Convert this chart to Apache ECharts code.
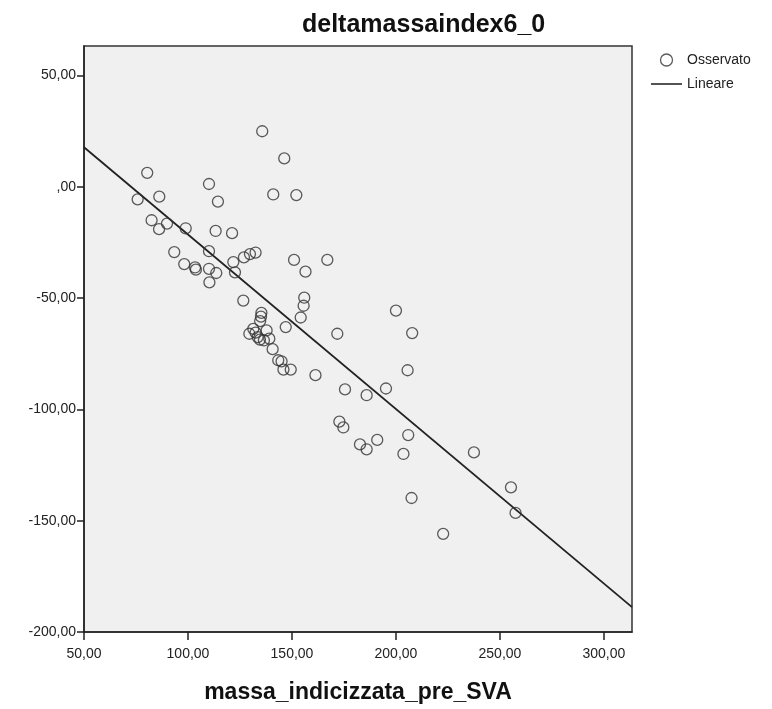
<!DOCTYPE html>
<html>
<head>
<meta charset="utf-8">
<script src="https://cdn.jsdelivr.net/npm/echarts@6/dist/echarts.min.js"></script>
<style>
  html, body { margin: 0; padding: 0; background: #ffffff; }
  #chart { width: 772px; height: 709px; }
</style>
</head>
<body>
<div id="chart"></div>
<script>
// Observed values: indexed mass before SVA (x) and delta of the mass index (y)
const massaPre = [
  135.7, 146.3, 80.4, 110.1, 75.8, 86.2, 141.0, 152.1, 114.4, 82.5,
  89.9, 86.1, 98.9, 113.3, 121.2, 93.4, 110.1, 132.5, 129.8, 126.9,
  121.8, 98.2, 103.4, 103.8, 110.1, 113.6, 122.6, 110.3, 151.0, 167.0,
  156.5, 126.6, 155.9, 155.6, 154.2, 135.3, 135.1, 134.7, 147.0, 171.8,
  129.5, 131.4, 132.5, 133.5, 134.6, 136.5, 137.8, 139.1, 140.7, 143.4,
  145.0, 145.9, 149.4, 161.3, 175.5, 185.9, 195.2, 200.0, 207.8, 205.6,
  172.8, 174.7, 182.7, 185.9, 191.0, 205.9, 203.6, 237.5, 207.5, 255.3,
  257.5, 222.7
];
const deltaMassa = [
  25.0, 12.8, 6.3, 1.3, -5.6, -4.4, -3.4, -3.7, -6.6, -15.0,
  -16.5, -19.0, -18.6, -19.8, -20.8, -29.3, -28.9, -29.5, -30.2, -31.7,
  -33.8, -34.7, -36.2, -37.2, -36.8, -38.7, -38.4, -42.9, -32.8, -32.8,
  -38.1, -51.1, -49.8, -53.4, -58.7, -56.6, -58.3, -60.3, -63.0, -66.0,
  -66.0, -63.8, -65.5, -67.5, -68.6, -69.0, -64.5, -68.2, -72.9, -77.9,
  -78.4, -82.1, -82.1, -84.6, -91.0, -93.6, -90.6, -55.6, -65.7, -82.4,
  -105.5, -108.1, -115.7, -117.9, -113.7, -111.5, -120.0, -119.3, -139.8, -135.0,
  -146.5, -155.9
];

// Linear fit drawn across the x range
const fitX = [50, 313.5];
const fitY = [17.8, -188.8];

// Tick values for both axes
const xTicks = [50, 100, 150, 200, 250, 300];
const yTicks = [-200, -150, -100, -50, 0, 50];

const FONT = "'Liberation Sans', Arial, sans-serif";

function fmt(v) {
  if (v === 0) return ',00';
  return v.toFixed(2).replace('.', ',');
}

const chart = echarts.init(document.getElementById('chart'), null, { renderer: 'canvas' });

chart.setOption({
  animation: false,
  backgroundColor: '#ffffff',
  title: {
    text: 'deltamassaindex6_0',
    left: 297,
    top: 8,
    textStyle: { fontFamily: FONT, fontSize: 25, fontWeight: 'bold', color: '#111' }
  },
  legend: {
    orient: 'vertical',
    left: 646,
    top: 48,
    itemWidth: 31,
    itemHeight: 12,
    itemGap: 10,
    symbolKeepAspect: true,
    textStyle: { fontFamily: FONT, fontSize: 14, color: '#222' },
    data: [
      { name: 'Osservato', icon: 'circle', itemStyle: { color: 'transparent', borderColor: '#333', borderWidth: 1.3 } },
      { name: 'Lineare', icon: 'path://M0,0H32V1.6H0Z', itemStyle: { color: '#222' } }
    ]
  },
  grid: {
    left: 84, right: 140, top: 46, bottom: 75,
    show: true,
    backgroundColor: '#f0f0f0',
    borderColor: '#333',
    borderWidth: 1.5
  },
  xAxis: {
    type: 'value',
    min: 50,
    max: 313.5,
    interval: 50,
    name: 'massa_indicizzata_pre_SVA',
    nameLocation: 'middle',
    nameGap: 49,
    nameTextStyle: { fontFamily: FONT, fontSize: 23, fontWeight: 'bold', color: '#111' },
    axisLine: { show: true, onZero: false, lineStyle: { color: '#222', width: 1.5 } },
    axisTick: { show: true, inside: false, length: 8, customValues: xTicks, lineStyle: { color: '#222', width: 1.5 } },
    axisLabel: { customValues: xTicks, formatter: fmt, margin: 15, fontFamily: FONT, fontSize: 14, color: '#222' },
    splitLine: { show: false }
  },
  yAxis: {
    type: 'value',
    min: -200,
    max: 63.3,
    interval: 50,
    axisLine: { show: true, onZero: false, lineStyle: { color: '#222', width: 1.5 } },
    axisTick: { show: true, inside: false, length: 7, customValues: yTicks, lineStyle: { color: '#222', width: 1.5 } },
    axisLabel: { customValues: yTicks, formatter: fmt, margin: 8, fontFamily: FONT, fontSize: 14, color: '#222' },
    splitLine: { show: false }
  },
  series: [
    {
      name: 'Osservato',
      type: 'scatter',
      symbol: 'circle',
      symbolSize: 11,
      itemStyle: { color: 'transparent', borderColor: '#333', borderWidth: 1.3 },
      data: massaPre.map((x, i) => [x, deltaMassa[i]]),
      z: 3
    },
    {
      name: 'Lineare',
      type: 'line',
      symbol: 'none',
      lineStyle: { color: '#222', width: 1.8 },
      itemStyle: { color: '#222' },
      data: fitX.map((x, i) => [x, fitY[i]]),
      z: 2
    }
  ]
});
</script>
</body>
</html>
